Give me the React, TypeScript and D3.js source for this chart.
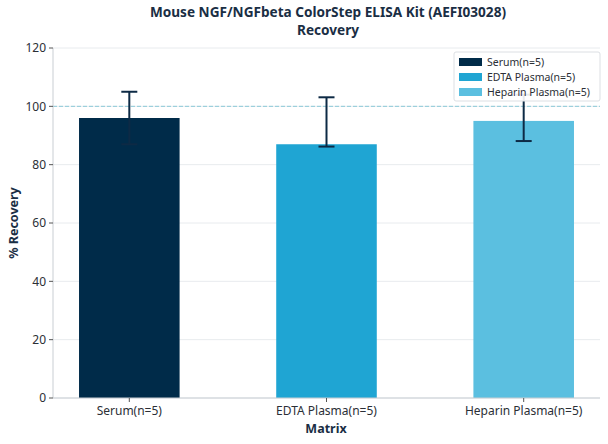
import React from "react";
import * as d3 from "d3";

const categories = ["Serum(n=5)", "EDTA Plasma(n=5)", "Heparin Plasma(n=5)"];
const means = [96, 87, 95];
const lowers = [87, 86.2, 88.1];
const uppers = [105, 103.1, 104];
const colors = ["#002b49", "#1fa5d3", "#5bbfe0"];
const yTicks = [0, 20, 40, 60, 80, 100, 120];
const titleLines = ["Mouse NGF/NGFbeta ColorStep ELISA Kit (AEFI03028)", "Recovery"];

const W = 608;
const H = 444;
const left = 53;
const right = 600;
const top = 48;
const bottom = 398;
const font = "'Noto Sans', 'Open Sans', sans-serif";
const textColor = "#2b2f36";
const navy = "#0d2a45";

export default function App() {
  const x = d3.scaleLinear().domain([-0.387, 2.387]).range([left, right]);
  const y = d3.scaleLinear().domain([0, 120]).range([bottom, top]);
  const barW = x(0.51) - x(0);
  const capW = 16;

  return (
    <svg width={W} height={H} style={{ position: "absolute", left: 0, top: 0, background: "#fff" }} fontFamily={font}>
      {/* title */}
      {titleLines.map((t, i) => (
        <text key={i} x={328} y={17 + i * 18} textAnchor="middle" fontSize={13.6} fontWeight="bold" fill="#1a2e44">
          {t}
        </text>
      ))}
      {/* grid */}
      {yTicks.map((t) => (
        <line key={t} x1={left} x2={right} y1={y(t)} y2={y(t)} stroke="#e8ebee" strokeWidth={1} />
      ))}
      {/* bars */}
      {means.map((m, i) => (
        <rect key={i} x={x(i) - barW / 2} y={y(m)} width={barW} height={y(0) - y(m)} fill={colors[i]} />
      ))}
      {/* reference line */}
      <line x1={left} x2={right} y1={y(100)} y2={y(100)} stroke="#8ccbd8" strokeWidth={1} strokeDasharray="4,2" />
      {/* error bars */}
      {means.map((m, i) => (
        <g key={i} stroke={navy} strokeWidth={2}>
          <line x1={x(i)} x2={x(i)} y1={y(lowers[i])} y2={y(uppers[i])} />
          <line x1={x(i) - capW / 2} x2={x(i) + capW / 2} y1={y(uppers[i])} y2={y(uppers[i])} />
          <line x1={x(i) - capW / 2} x2={x(i) + capW / 2} y1={y(lowers[i])} y2={y(lowers[i])} />
        </g>
      ))}
      {/* axes */}
      <line x1={left} x2={left} y1={top} y2={bottom} stroke="#c9ced3" strokeWidth={1} />
      <line x1={left} x2={right} y1={bottom} y2={bottom} stroke="#c9ced3" strokeWidth={1} />
      {yTicks.map((t) => (
        <g key={t}>
          <line x1={left - 4} x2={left} y1={y(t)} y2={y(t)} stroke="#555" strokeWidth={1} />
          <text x={left - 7} y={y(t)} dy="0.35em" textAnchor="end" fontSize={12} fill={textColor}>
            {t}
          </text>
        </g>
      ))}
      {categories.map((c, i) => (
        <g key={c}>
          <line x1={x(i)} x2={x(i)} y1={bottom} y2={bottom + 4} stroke="#555" strokeWidth={1} />
          <text x={x(i)} y={bottom + 17} textAnchor="middle" fontSize={12} fill={textColor}>
            {c}
          </text>
        </g>
      ))}
      <text x={326} y={433} textAnchor="middle" fontSize={12.5} fontWeight="bold" fill="#1a2e44">
        Matrix
      </text>
      <text transform={`translate(18,${(top + bottom) / 2}) rotate(-90)`} textAnchor="middle" fontSize={12.5} fontWeight="bold" fill="#1a2e44">
        % Recovery
      </text>
      {/* legend */}
      <g>
        <rect x={454} y={52} width={146} height={49} rx={2} fill="#fff" fillOpacity={0.9} stroke="#dcdfe3" />
        {categories.map((c, i) => (
          <g key={c} transform={`translate(0,${i * 15})`}>
            <rect x={459} y={58} width={23} height={8} fill={colors[i]} />
            <text x={487} y={62} dy="0.35em" fontSize={10.5} fill={textColor}>
              {c}
            </text>
          </g>
        ))}
      </g>
    </svg>
  );
}
